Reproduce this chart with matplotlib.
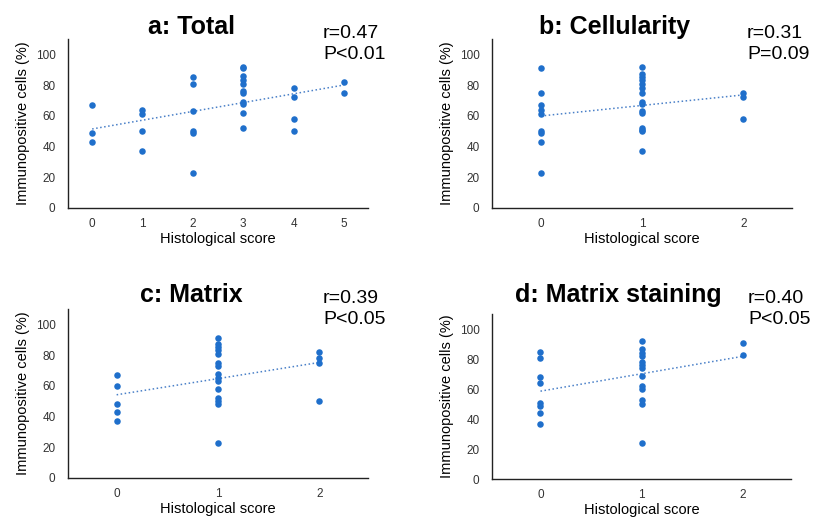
import matplotlib.pyplot as plt
import numpy as np

plt.rcParams['font.family'] = ['Liberation Sans', 'DejaVu Sans']

# panel a: Total
a_x = [0, 0, 0, 1, 1, 1, 1, 2, 2, 2, 2, 2, 2,
       3, 3, 3, 3, 3, 3, 3, 3, 3, 3, 3, 4, 4, 4, 4, 5, 5]
a_y = [67, 49, 43, 64, 61, 50, 37, 85, 81, 63, 50, 49, 23,
       92, 91, 86, 83, 81, 76, 75, 69, 68, 62, 52, 78, 72, 58, 50, 82, 75]

# panel b: Cellularity
b_x = [0] * 9 + [1] * 15 + [2] * 3
b_y = [91, 75, 67, 64, 61, 50, 49, 43, 23,
       92, 87, 85, 83, 81, 78, 75, 69, 68, 63, 62, 52, 51, 50, 37,
       75, 72, 58]

# panel c: Matrix
c_x = [0] * 5 + [1] * 15 + [2] * 4
c_y = [67, 60, 48, 43, 37,
       91, 87, 85, 83, 81, 75, 73, 68, 65, 63, 58, 52, 50, 48, 23,
       82, 78, 75, 50]

# panel d: Matrix staining
d_x = [0] * 8 + [1] * 13 + [2] * 2
d_y = [85, 81, 68, 64, 51, 49, 44, 37,
       92, 87, 84, 82, 78, 76, 74, 69, 62, 60, 53, 50, 24,
       91, 83]

titles = ['a: Total', 'b: Cellularity', 'c: Matrix', 'd: Matrix staining']
stats = ['r=0.47\nP<0.01', 'r=0.31\nP=0.09', 'r=0.39\nP<0.05', 'r=0.40\nP<0.05']

W, H = 813, 517
fig = plt.figure(figsize=(W / 100, H / 100), dpi=100)

# axes boxes in pixels: left, right, top, bottom
boxes = [(68, 368, 39, 208), (492, 792, 39, 208),
         (68, 368, 309, 478), (492, 791, 314, 479)]
title_pos = [(191, 27), (615, 27), (191, 295), (618, 295)]
stat_pos = [(323, 25), (747, 25), (323, 290), (748, 290)]
xmax = [5, 2, 2, 2]

dot = '#1f6fcb'
data = [(a_x, a_y), (b_x, b_y), (c_x, c_y), (d_x, d_y)]

for i, (xs, ys) in enumerate(data):
    l, r, t, b = boxes[i]
    ax = fig.add_axes([l / W, 1 - b / H, (r - l) / W, (b - t) / H])
    ax.scatter(xs, ys, s=22, color=dot, zorder=3, linewidths=0)
    k, c0 = np.polyfit(xs, ys, 1)
    lx = np.array([0, xmax[i]])
    ax.plot(lx, k * lx + c0, ':', color='#4a80c8', lw=1.1)
    ax.set_xlim(-0.48, xmax[i] + 0.48)
    ax.set_ylim(0, 110)
    ax.set_xticks(range(xmax[i] + 1))
    ax.set_yticks(range(0, 101, 20))
    ax.tick_params(length=0, labelsize=8.5, colors='#333333')
    ax.tick_params(axis='y', pad=9)
    ax.tick_params(axis='x', pad=7)
    for s in ['top', 'right']:
        ax.spines[s].set_visible(False)
    for s in ['left', 'bottom']:
        ax.spines[s].set_color('#222222')
        ax.spines[s].set_linewidth(1)
    ax.set_ylabel('Immunopositive cells (%)', fontsize=10.5, labelpad=4)
    ax.set_xlabel('Histological score', fontsize=10.5, labelpad=1.5)
    tx, ty = title_pos[i]
    fig.text(tx / W, 1 - ty / H, titles[i], fontsize=18, fontweight='bold',
             ha='center', va='center')
    sx, sy = stat_pos[i]
    fig.text(sx / W, 1 - sy / H, stats[i], fontsize=14, ha='left', va='top',
             linespacing=1.3)

fig.savefig('out.png', dpi=100)
